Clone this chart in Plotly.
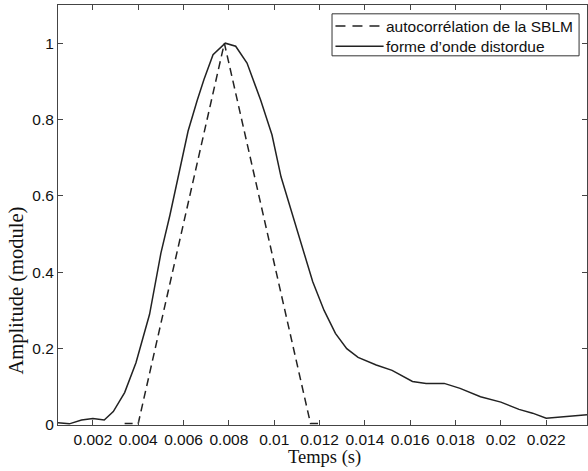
import plotly.graph_objects as go

# Solid: distorted waveform
t_wave = [0.00046, 0.00096, 0.0015, 0.002, 0.0025, 0.0029, 0.0034, 0.0039, 0.0045, 0.0050,
          0.0054, 0.0058, 0.0062, 0.0066, 0.0069, 0.0073, 0.00784, 0.0083, 0.0088, 0.0094,
          0.0099, 0.0103, 0.0108, 0.0112, 0.0117, 0.0122, 0.0127, 0.0132, 0.0137, 0.0145,
          0.0152, 0.0161, 0.0167, 0.0175, 0.0182, 0.0191, 0.0200, 0.0208, 0.0214, 0.0220,
          0.0232, 0.0238]
y_wave = [0.006, 0.003, 0.013, 0.017, 0.013, 0.035, 0.085, 0.163, 0.29, 0.45,
          0.55, 0.66, 0.77, 0.85, 0.905, 0.97, 1.0, 0.992, 0.948, 0.851,
          0.76, 0.65, 0.55, 0.47, 0.375, 0.30, 0.24, 0.20, 0.177, 0.157,
          0.143, 0.114, 0.109, 0.109, 0.096, 0.074, 0.06, 0.041, 0.031, 0.018,
          0.024, 0.027]

# Dashed: autocorrelation of the SBLM
t_auto = [0.0034, 0.0040, 0.0078, 0.0116, 0.0120]
y_auto = [0.004, 0.004, 1.0, 0.004, 0.004]

x_tickvals = [0.002, 0.004, 0.006, 0.008, 0.010, 0.012, 0.014, 0.016, 0.018, 0.020, 0.022]
x_ticktext = ["0.002", "0.004", "0.006", "0.008", "0.01", "0.012", "0.014", "0.016", "0.018", "0.02", "0.022"]
y_tickvals = [0, 0.2, 0.4, 0.6, 0.8, 1.0]
y_ticktext = ["0", "0.2", "0.4", "0.6", "0.8", "1"]

x_title = "Temps (s)"
y_title = "Amplitude (module)"
series_names = ["autocorrélation de la SBLM", "forme d’onde distordue"]

line_col = "#222222"
dash_style = "8px,5px"

fig = go.Figure()
fig.add_trace(go.Scatter(x=t_auto, y=y_auto, mode="lines", name=series_names[0],
                         line=dict(color=line_col, width=1.5, dash=dash_style)))
fig.add_trace(go.Scatter(x=t_wave, y=y_wave, mode="lines", name=series_names[1],
                         line=dict(color=line_col, width=1.5)))

axis_common = dict(showgrid=False, zeroline=False, showline=True, linecolor="#444444",
                   linewidth=1, mirror="ticks", ticks="inside", ticklen=5, automargin=False,
                   tickcolor="#444444", tickfont=dict(family="Liberation Sans, Arial", size=15.5, color="#111"))

fig.update_xaxes(range=[0.00046, 0.0238], tickvals=x_tickvals, ticktext=x_ticktext, **axis_common)
fig.update_yaxes(range=[0, 1.1], tickvals=y_tickvals, ticktext=y_ticktext, **axis_common)

serif = dict(family="Liberation Serif, Times New Roman", color="#111")
fig.add_annotation(text=y_title, textangle=-90, xref="paper", yref="paper",
                   x=-0.0775, y=0.32, xanchor="center", yanchor="middle", showarrow=False,
                   font=dict(size=20.5, **serif))
fig.add_annotation(text=x_title, xref="paper", yref="paper",
                   x=0.5047, y=-0.0785, xanchor="center", yanchor="middle", showarrow=False,
                   font=dict(size=18.5, **serif))

# Manual legend (box, line samples, labels) in paper coordinates
fig.add_shape(type="rect", xref="paper", yref="paper", x0=0.518, x1=0.985, y0=0.879, y1=0.979,
              line=dict(color="#333333", width=1), fillcolor="white", layer="above")
row_y = [0.950, 0.902]
fig.add_shape(type="line", xref="paper", yref="paper", x0=0.5245, x1=0.6155, y0=row_y[0], y1=row_y[0],
              line=dict(color=line_col, width=1.5, dash="10px,7px"), layer="above")
fig.add_shape(type="line", xref="paper", yref="paper", x0=0.5245, x1=0.6155, y0=row_y[1], y1=row_y[1],
              line=dict(color=line_col, width=1.5), layer="above")
for name, yy in zip(series_names, row_y):
    fig.add_annotation(text=name, xref="paper", yref="paper", x=0.6163, y=yy,
                       xanchor="left", yanchor="middle", showarrow=False,
                       font=dict(family="Liberation Sans, Arial", size=15.5, color="#111"))

fig.update_layout(
    width=588, height=471,
    margin=dict(l=58, r=1, t=5, b=46),
    plot_bgcolor="white", paper_bgcolor="white",
    showlegend=False,
)

fig.write_html("out.html", config={"displayModeBar": False},
               post_script="document.body.style.margin='0px';document.body.style.overflow='hidden';")
